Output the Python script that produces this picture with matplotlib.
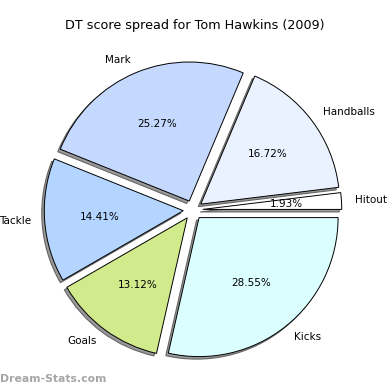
import numpy as np
import matplotlib
matplotlib.use('Agg')
import matplotlib.pyplot as plt

# slice data, counter-clockwise from 0 degrees
labels = ['Hitout', 'Handballs', 'Mark', 'Tackle', 'Goals', 'Kicks']
shares = [1.93, 16.72, 25.27, 14.41, 13.12, 28.55]
colours = ['#ffffff', '#eaf1ff', '#c5d9ff', '#b4d5ff', '#d1eb8c', '#dbffff']

fig = plt.figure(figsize=(3.9, 3.9), dpi=100)
ax = fig.add_axes([0, 0, 1, 1])

s = 139.0      # pixels per data unit
cx, cy = 193.0, 210.0   # pie centre in pixels (from top)

wedges, texts, autotexts = ax.pie(
    shares, labels=labels, colors=colours, explode=[0.07] * len(shares),
    autopct='%.2f%%', startangle=0, counterclock=True,
    shadow={'ox': -0.013, 'oy': -0.013, 'facecolor': '0.6', 'edgecolor': '0.4',
            'alpha': 1.0, 'linewidth': 0.8},
    wedgeprops={'edgecolor': 'black', 'linewidth': 0.7},
    textprops={'fontsize': 7.5, 'color': 'black'})

ax.set_xlim(-cx / s, (390 - cx) / s)
ax.set_ylim(-(390 - cy) / s, cy / s)
ax.set_aspect('equal', adjustable='box')
ax.axis('off')

fig.text(0.5, 1 - 25 / 390, 'DT score spread for Tom Hawkins (2009)',
         ha='center', va='center', fontsize=9.2)
fig.text(0.0, 1 - 379 / 390, 'Dream-Stats.com', ha='left', va='center',
         fontsize=7.8, color='#a6a6a6', fontweight='bold')

fig.savefig('out.png', dpi=100)
